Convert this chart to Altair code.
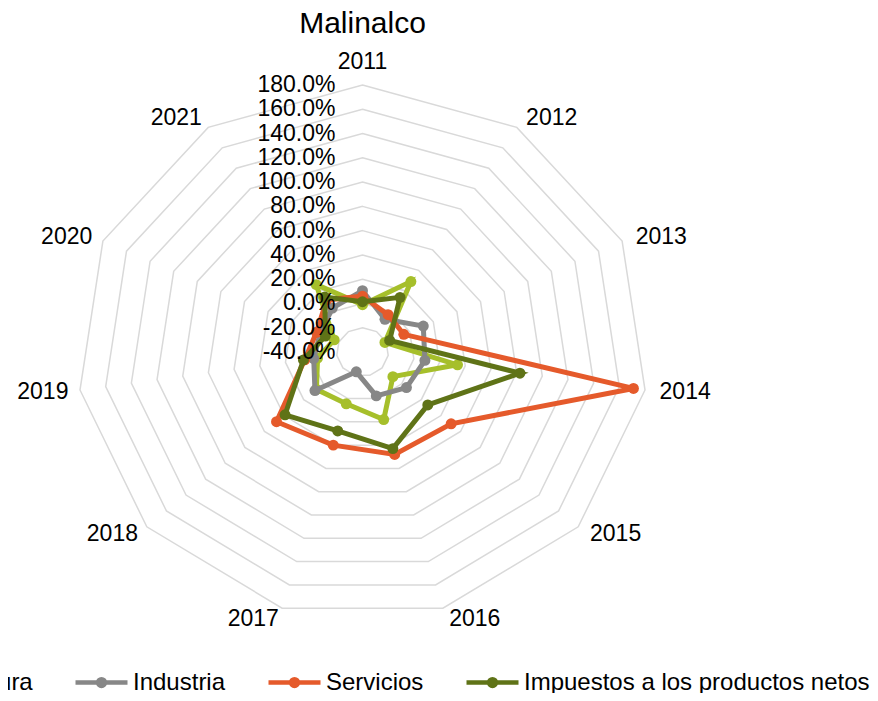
import altair as alt
import pandas as pd

# ---------------- data ----------------
title_text = "Malinalco"
years = ["2011", "2012", "2013", "2014", "2015", "2016", "2017", "2018", "2019", "2020", "2021"]
agricultura = [-1, 29, -21, 34, -9, 18, 4.5, 7, -5, -16, 26]
industria = [10.5, -8, 11.5, 8.6, 4.8, -2.3, -23, 8.5, -2, -4, 3]
servicios = [6, -3.5, -5, 171, 50.4, 48, 40, 47.7, 5, -1, 11]
impuestos = [1.4, 13.5, -17, 82.6, 26.6, 43, 27.8, 39, 6, -8.5, 13.8]
series_names = ["Agricultura", "Industria", "Servicios", "Impuestos a los productos netos"]
series_colors = ["#A6BF2B", "#878787", "#E55A2B", "#5F7317"]
ring_ticks = [-40, -20, 0, 20, 40, 60, 80, 100, 120, 140, 160, 180]

# ---------------- tables built from the arrays ----------------
N = len(years)
AXMIN = ring_ticks[0]
rows = []
for name, vals in zip(series_names, [agricultura, industria, servicios, impuestos]):
    for i, (yr, v) in enumerate(zip(years, vals)):
        rows.append({"series": name, "year": yr, "idx": i, "value": v})
df = pd.DataFrame(rows)

ring_rows = [{"tick": t, "idx": i} for t in ring_ticks[1:] for i in range(N)]
ring_df = pd.DataFrame(ring_rows)
ring_lab_df = pd.DataFrame({"tick": ring_ticks})
year_df = pd.DataFrame({"year": years, "idx": list(range(N))})

FONT = "Liberation Sans"
W, H = 870, 685
X = alt.X("x:Q", scale=alt.Scale(domain=[-279.43, 391.19], nice=False, zero=False), axis=None)
Y = alt.Y("y:Q", scale=alt.Scale(domain=[-280.99, 283.45], nice=False, zero=False), axis=None)

ang = f"datum.idx * 2 * PI / {N}"

rings = (
    alt.Chart(ring_df)
    .transform_calculate(a=ang, r=f"datum.tick - ({AXMIN})")
    .transform_calculate(x="datum.r * sin(datum.a)", y="datum.r * cos(datum.a)")
    .mark_line(interpolate="linear-closed", color="#D9D9D9", strokeWidth=1.5)
    .encode(x=X, y=Y, detail="tick:N", order="idx:Q")
)

legend_path = (
    "M-1,0H1"
    "M0.13,0A0.13,0.13,0,1,1,-0.13,0A0.13,0.13,0,1,1,0.13,0"
    "M0.06,0A0.06,0.06,0,1,1,-0.06,0A0.06,0.06,0,1,1,0.06,0"
)
legend = alt.Legend(
    title=None, orient="none", legendX=-142, legendY=646, direction="horizontal",
    symbolType=legend_path, symbolSize=2704, symbolStrokeWidth=4.5,
    labelFont=FONT, labelFontSize=24, labelColor="black", labelOffset=3,
    columnPadding=33, labelLimit=600,
)
color = alt.Color("series:N", scale=alt.Scale(domain=series_names, range=series_colors), legend=legend)

series_layers = []
for s in series_names:
    base = (
        alt.Chart(df)
        .transform_filter(alt.datum.series == s)
        .transform_calculate(a=ang, r=f"datum.value - ({AXMIN})")
        .transform_calculate(x="datum.r * sin(datum.a)", y="datum.r * cos(datum.a)")
    )
    series_layers.append(
        base.mark_line(interpolate="linear-closed", strokeWidth=5).encode(x=X, y=Y, color=color, order="idx:Q")
    )
    series_layers.append(
        base.mark_circle(size=120, opacity=1).encode(x=X, y=Y, color=color)
    )

ring_labels = (
    alt.Chart(ring_lab_df)
    .transform_calculate(x="0", y=f"datum.tick - ({AXMIN})",
                         lab="(datum.tick < 0 ? '-' : '') + format(abs(datum.tick) / 100, '.1%')")
    .mark_text(align="right", baseline="middle", dx=-27, font=FONT, fontSize=23, color="black")
    .encode(x=X, y=Y, text="lab:N")
)

year_base = (
    alt.Chart(year_df)
    .transform_calculate(a=ang, s=f"sin({ang})")
    .transform_calculate(r="datum.idx == 0 ? 239 : 229")
    .transform_calculate(x="datum.r * sin(datum.a)", y="datum.r * cos(datum.a)")
)
year_top = year_base.transform_filter("abs(datum.s) < 0.01").mark_text(
    align="center", baseline="middle", font=FONT, fontSize=23, color="black").encode(x=X, y=Y, text="year:N")
year_right = year_base.transform_filter("datum.s >= 0.01").mark_text(
    align="left", baseline="middle", dx=3, font=FONT, fontSize=23, color="black").encode(x=X, y=Y, text="year:N")
year_left = year_base.transform_filter("datum.s <= -0.01").mark_text(
    align="right", baseline="middle", font=FONT, fontSize=23, color="black").encode(x=X, y=Y, text="year:N")

title = (
    alt.Chart(pd.DataFrame({"t": [title_text]}))
    .mark_text(font=FONT, fontSize=30, color="black", baseline="middle", align="center")
    .encode(x=alt.value(362.5), y=alt.value(16), text="t:N")
)

chart = (
    alt.layer(rings, *series_layers, ring_labels, year_top, year_right, year_left, title)
    .properties(
        width=W, height=H,
        autosize=alt.AutoSizeParams(type="none"),
        padding={"left": -8, "top": 0, "right": 0, "bottom": 0},
    )
    .configure_view(strokeWidth=0)
)

chart.save("out.html", embed_options={"renderer": "svg", "actions": False})
